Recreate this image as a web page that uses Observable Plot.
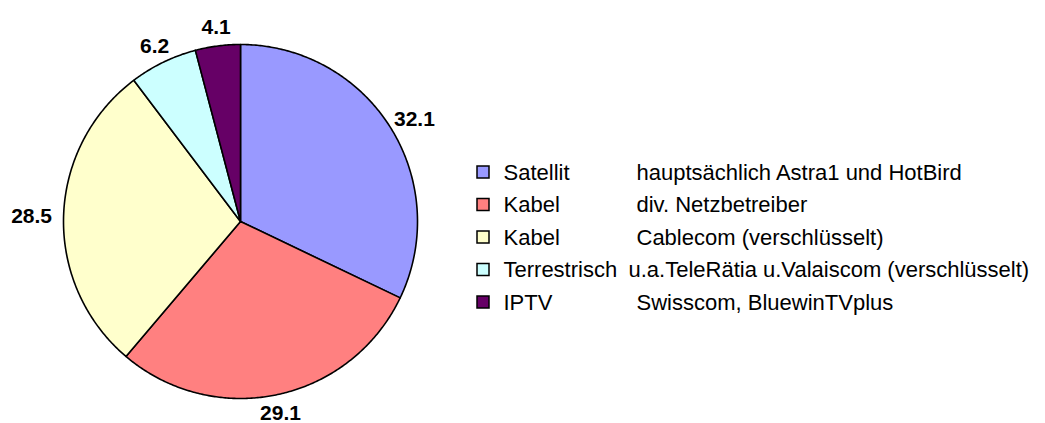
<!DOCTYPE html>
<html>
<head>
<meta charset="utf-8">
<script src="https://cdn.jsdelivr.net/npm/d3@7"></script>
<script src="https://cdn.jsdelivr.net/npm/@observablehq/plot@0.6"></script>
<style>
  html, body { margin: 0; padding: 0; background: #fff; }
  #chart { width: 1045px; height: 423px; overflow: hidden; }
</style>
</head>
<body>
<div id="chart"></div>
<script>
// ---- data ----
const categories = ["Satellit", "Kabel", "Kabel", "Terrestrisch", "IPTV"];
const descriptions = [
  "hauptsächlich Astra1 und HotBird",
  "div. Netzbetreiber",
  "Cablecom (verschlüsselt)",
  "u.a.TeleRätia u.Valaiscom (verschlüsselt)",
  "Swisscom, BluewinTVplus"
];
const values = [32.1, 29.1, 28.5, 6.2, 4.1];
const colors = ["#9999FF", "#FF8080", "#FFFFCC", "#CCFFFF", "#660066"];

// ---- layout ----
const W = 1045, H = 423;
const cx = 240, cy = 221, R = 177;
const px2x = px => (px - cx) / R;
const py2y = py => (cy - py) / R;

// ---- pie geometry (data space, unit circle) ----
const total = d3.sum(values);
let acc = 0;
const slices = values.map((v, i) => {
  const a0 = acc / total * 2 * Math.PI;
  acc += v;
  const a1 = acc / total * 2 * Math.PI;
  return {i, v, a0, a1, mid: (a0 + a1) / 2};
});
const polys = slices.map(s => {
  const pts = [{x: 0, y: 0}];
  const n = Math.max(2, Math.ceil((s.a1 - s.a0) / (Math.PI / 360)));
  for (let k = 0; k <= n; k++) {
    const a = s.a0 + (s.a1 - s.a0) * k / n;
    pts.push({x: Math.sin(a), y: Math.cos(a)});
  }
  pts.push({x: 0, y: 0});
  return pts;
});

// labels: outside each slice along mid angle
const labelGap = 10, hw = 22, hh = 9;
const labels = slices.map(s => {
  const sx = Math.sin(s.mid), sy = Math.cos(s.mid);
  return {
    x: sx * (R + labelGap + hw * Math.abs(sx)) / R,
    y: sy * (R + labelGap + hh * Math.abs(sy)) / R,
    text: values[s.i].toFixed(1)
  };
});

// legend rows
const legTop = 172, legStep = 32.5;
const legend = categories.map((c, i) => ({
  i, cat: c, desc: descriptions[i], color: colors[i],
  yc: legTop + i * legStep
}));

const marks = [];
polys.forEach((pts, i) => {
  marks.push(Plot.line(pts, {x: "x", y: "y", fill: colors[i], stroke: "#000", strokeWidth: 1.6, curve: "linear", strokeLinejoin: "round"}));
});
marks.push(Plot.text(labels, {x: "x", y: "y", text: "text", fontWeight: "bold", fontSize: 21, fill: "#000", textAnchor: "middle", lineAnchor: "middle"}));
// legend squares
marks.push(Plot.rect(legend, {
  x1: d => px2x(477), x2: d => px2x(489),
  y1: d => py2y(d.yc - 6), y2: d => py2y(d.yc + 6),
  fill: d => d.color, stroke: "#000", strokeWidth: 1.5
}));
marks.push(Plot.text(legend, {x: d => px2x(503), y: d => py2y(d.yc), text: "cat", textAnchor: "start", lineAnchor: "middle", fontSize: 22, fill: "#000"}));
marks.push(Plot.text(legend, {x: d => px2x(d.i === 3 ? 628 : 636), y: d => py2y(d.yc), text: "desc", textAnchor: "start", lineAnchor: "middle", fontSize: 22, fill: "#000"}));

const plot = Plot.plot({
  width: W, height: H,
  margin: 0,
  x: {domain: [-1, 1], range: [cx - R, cx + R], axis: null},
  y: {domain: [-1, 1], range: [cy + R, cy - R], axis: null},
  style: {fontFamily: "Arial, 'Liberation Sans', sans-serif", background: "#fff", overflow: "visible"},
  marks
});
document.getElementById("chart").appendChild(plot);
</script>
</body>
</html>
